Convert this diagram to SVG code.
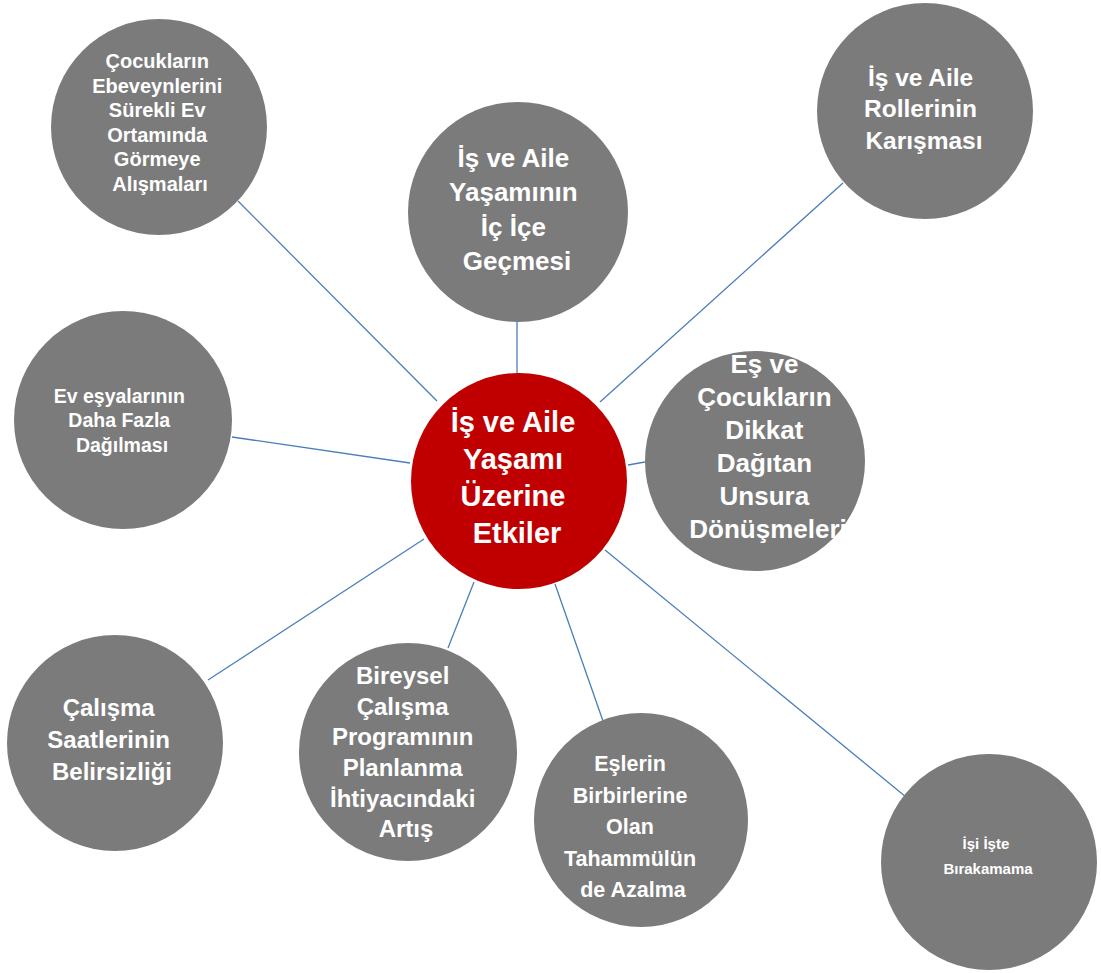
<svg xmlns="http://www.w3.org/2000/svg" width="1101" height="973" viewBox="0 0 1101 973">
  <style>
    .bubble { fill: #7b7b7b; }
    .hub { fill: #c00000; }
    .label { fill: #ffffff; font-family: "Liberation Sans", Arial, sans-serif; font-weight: bold; text-anchor: middle; }
    .spoke { stroke: #4a7ebb; stroke-width: 1.3; fill: none; }
  </style>
  <rect width="1101" height="973" fill="#ffffff"/>

  <!-- spokes from the hub to each effect -->
  <g id="connectors">
    <line class="spoke" x1="238" y1="201" x2="437" y2="401"/>
    <line class="spoke" x1="517" y1="322" x2="517" y2="374"/>
    <line class="spoke" x1="843" y1="183" x2="600" y2="402"/>
    <line class="spoke" x1="232" y1="437" x2="410" y2="463"/>
    <line class="spoke" x1="645" y1="462" x2="628" y2="465"/>
    <line class="spoke" x1="208" y1="680" x2="424" y2="539"/>
    <line class="spoke" x1="448" y1="648" x2="474" y2="582"/>
    <line class="spoke" x1="603" y1="721" x2="555" y2="584"/>
    <line class="spoke" x1="906" y1="797" x2="605" y2="550"/>
  </g>

  <g id="n-cocuklar">
    <circle class="bubble" cx="159" cy="127" r="108"/>
    <text class="label" font-size="20">
      <tspan x="160" y="68">Çocukların</tspan>
      <tspan x="160" y="92.5">Ebeveynlerini</tspan>
      <tspan x="160" y="117">Sürekli Ev</tspan>
      <tspan x="160" y="141.5">Ortamında</tspan>
      <tspan x="160" y="166">Görmeye</tspan>
      <tspan x="160" y="190.5">Alışmaları</tspan>
    </text>
  </g>

  <g id="n-icice">
    <circle class="bubble" cx="518" cy="212" r="110"/>
    <text class="label" font-size="26">
      <tspan x="517" y="167">İş ve Aile</tspan>
      <tspan x="517" y="201">Yaşamının</tspan>
      <tspan x="517" y="236">İç İçe</tspan>
      <tspan x="517" y="270">Geçmesi</tspan>
    </text>
  </g>

  <g id="n-roller">
    <circle class="bubble" cx="925" cy="111" r="108"/>
    <text class="label" font-size="24.5">
      <tspan x="924" y="86">İş ve Aile</tspan>
      <tspan x="924" y="117">Rollerinin</tspan>
      <tspan x="924" y="149">Karışması</tspan>
    </text>
  </g>

  <g id="n-esyalar">
    <circle class="bubble" cx="123" cy="420" r="109"/>
    <text class="label" font-size="19.5">
      <tspan x="122" y="402.5">Ev eşyalarının</tspan>
      <tspan x="122" y="427">Daha Fazla</tspan>
      <tspan x="122" y="452">Dağılması</tspan>
    </text>
  </g>

  <g id="n-hub">
    <circle class="hub" cx="519" cy="481" r="108"/>
    <text class="label" font-size="29">
      <tspan x="517" y="432">İş ve Aile</tspan>
      <tspan x="517" y="469">Yaşamı</tspan>
      <tspan x="517" y="506">Üzerine</tspan>
      <tspan x="517" y="543">Etkiler</tspan>
    </text>
  </g>

  <g id="n-dikkat">
    <circle class="bubble" cx="755" cy="461" r="110"/>
    <text class="label" font-size="26">
      <tspan x="768" y="373">Eş ve</tspan>
      <tspan x="768" y="406">Çocukların</tspan>
      <tspan x="768" y="439">Dikkat</tspan>
      <tspan x="768" y="472">Dağıtan</tspan>
      <tspan x="768" y="505">Unsura</tspan>
      <tspan x="768" y="538">Dönüşmeleri</tspan>
    </text>
  </g>

  <g id="n-saatler">
    <circle class="bubble" cx="115" cy="743" r="108"/>
    <text class="label" font-size="24">
      <tspan x="112" y="715.5">Çalışma</tspan>
      <tspan x="112" y="747.5">Saatlerinin</tspan>
      <tspan x="112" y="779.5">Belirsizliği</tspan>
    </text>
  </g>

  <g id="n-program">
    <circle class="bubble" cx="408" cy="752" r="109"/>
    <text class="label" font-size="24">
      <tspan x="406" y="684">Bireysel</tspan>
      <tspan x="406" y="714.6">Çalışma</tspan>
      <tspan x="406" y="745.3">Programının</tspan>
      <tspan x="406" y="776">Planlanma</tspan>
      <tspan x="406" y="806.6">İhtiyacındaki</tspan>
      <tspan x="406" y="837">Artış</tspan>
    </text>
  </g>

  <g id="n-tahammul">
    <circle class="bubble" cx="641" cy="820" r="107"/>
    <text class="label" font-size="21.5">
      <tspan x="633" y="771">Eşlerin</tspan>
      <tspan x="633" y="802.5">Birbirlerine</tspan>
      <tspan x="633" y="834">Olan</tspan>
      <tspan x="633" y="865.5">Tahammülün</tspan>
      <tspan x="633" y="897">de Azalma</tspan>
    </text>
  </g>

  <g id="n-birakamama">
    <circle class="bubble" cx="989" cy="862" r="108"/>
    <text class="label" font-size="15">
      <tspan x="988" y="849">İşi İşte</tspan>
      <tspan x="988" y="874">Bırakamama</tspan>
    </text>
  </g>
</svg>
